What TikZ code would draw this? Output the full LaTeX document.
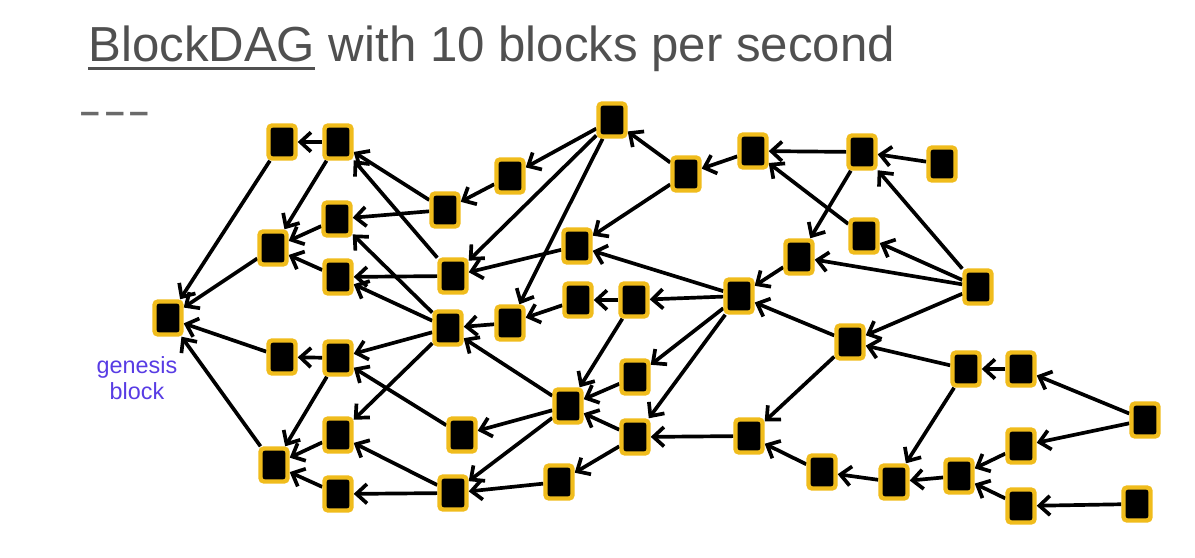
\documentclass[tikz,border=0pt]{standalone}
\usepackage{fontspec}
\setmainfont{Liberation Sans}
\usepackage{xcolor}
\usepackage{tikz}
\usetikzlibrary{arrows.meta, backgrounds}
\definecolor{blockgold}{RGB}{240, 188, 28}
\definecolor{titlegray}{RGB}{80, 80, 80}
\definecolor{genesisblue}{RGB}{88, 60, 228}
\newsavebox{\ulbox}
\newcommand{\thickul}[1]{\sbox{\ulbox}{#1}\rlap{\rule[-4.6pt]{\wd\ulbox}{1.6pt}}\usebox{\ulbox}}

\begin{document}
\begin{tikzpicture}[x=0.02cm, y=-0.02cm,
    blk/.style={fill=black, draw=blockgold, line width=2.5pt, rounded corners=2pt,
        minimum width=0.54cm, minimum height=0.66cm, inner sep=0pt},
    edge/.style={line width=2.1pt, -{Straight Barb[length=6pt, width=11pt]}}]
    \useasboundingbox (0,0) rectangle (1195,557);

    % Title
    \node[anchor=base west, inner sep=0pt, text=titlegray, font=\fontsize{28}{33}\selectfont]
        (title) at (88,62) {\thickul{BlockDAG} with 10 blocks per second};
    \node[anchor=west, inner sep=0pt, text=titlegray!85, font=\bfseries\fontsize{20}{24}\selectfont]
        (dashes) at (80,118) {\textendash\hspace{3pt}\textendash\hspace{3pt}\textendash};

    % Blocks
    \foreach \n/\x/\y in {G/168/318, a1/282/142, a2/338/142, b1/273/248, b2/337/219, b3/338/277,
        c1/282/357, c2/338/358, d1/274/465, d2/338/435, d3/338/494,
        e1/445/210, e2/510/176, f1/453/276, f2/448/328, f3/510/323,
        g1/612/120, g2/577/246, g3/578/300, g4/634/300,
        h1/686/174, h2/753/151, h3/862/152, h4/942/164,
        i1/864/236, i2/799/257, i3/978/287, j1/739/296, j2/850/342,
        k1/462/435, k2/568/406, k3/635/377, k4/635/437, l1/453/493, l2/559/482,
        m1/749/436, m2/822/472, m3/894/482, m4/959/476,
        n1/966/369, n2/1021/369, n3/1021/446, n4/1021/506, o1/1145/420, o2/1137/504} {
        \node[blk] (\n) at (\x,\y) {};
    }

    % Genesis label
    \node[text=genesisblue, align=center, font=\fontsize{13.3}{14.7}\selectfont]
        (glabel) at (137,378) {genesis\\block};

    % Edges (child -> parent)
    \begin{scope}[on background layer]
        \foreach \s/\t in {a1/G, b1/G, c1/G, d1/G, a2/a1, a2/b1, b2/b1, b3/b1,
            e1/a2, e1/b2, f1/a2, f1/b3, f2/b2, f2/b3, f2/c2, f2/d2,
            c2/c1, c2/d1, d2/d1, d3/d1, k1/c2, l1/d3, l1/d2,
            e2/e1, g1/e2, g1/f1, g1/f3, g2/f1, h1/g1, h1/g2,
            h2/h1, h3/h2, h4/h3, h3/i2, i1/h2, i3/h3, i3/i1, i3/i2, i3/j2,
            i2/j1, j2/j1, j1/g2, j1/g4, g4/g3, g3/f3, f3/f2,
            j1/k3, j1/k4, g4/k2, k3/k2, k4/k2, k2/f2, k2/k1, k2/l1,
            l2/l1, k4/l2, m1/k4, j2/m1, n1/j2, n2/n1, o1/n2, o1/n3,
            n3/m4, n4/m4, o2/n4, m4/m3, n1/m3, m3/m2, m2/m1} {
            \draw[edge] (\s) -- (\t);
        }
    \end{scope}
\end{tikzpicture}
\end{document}
